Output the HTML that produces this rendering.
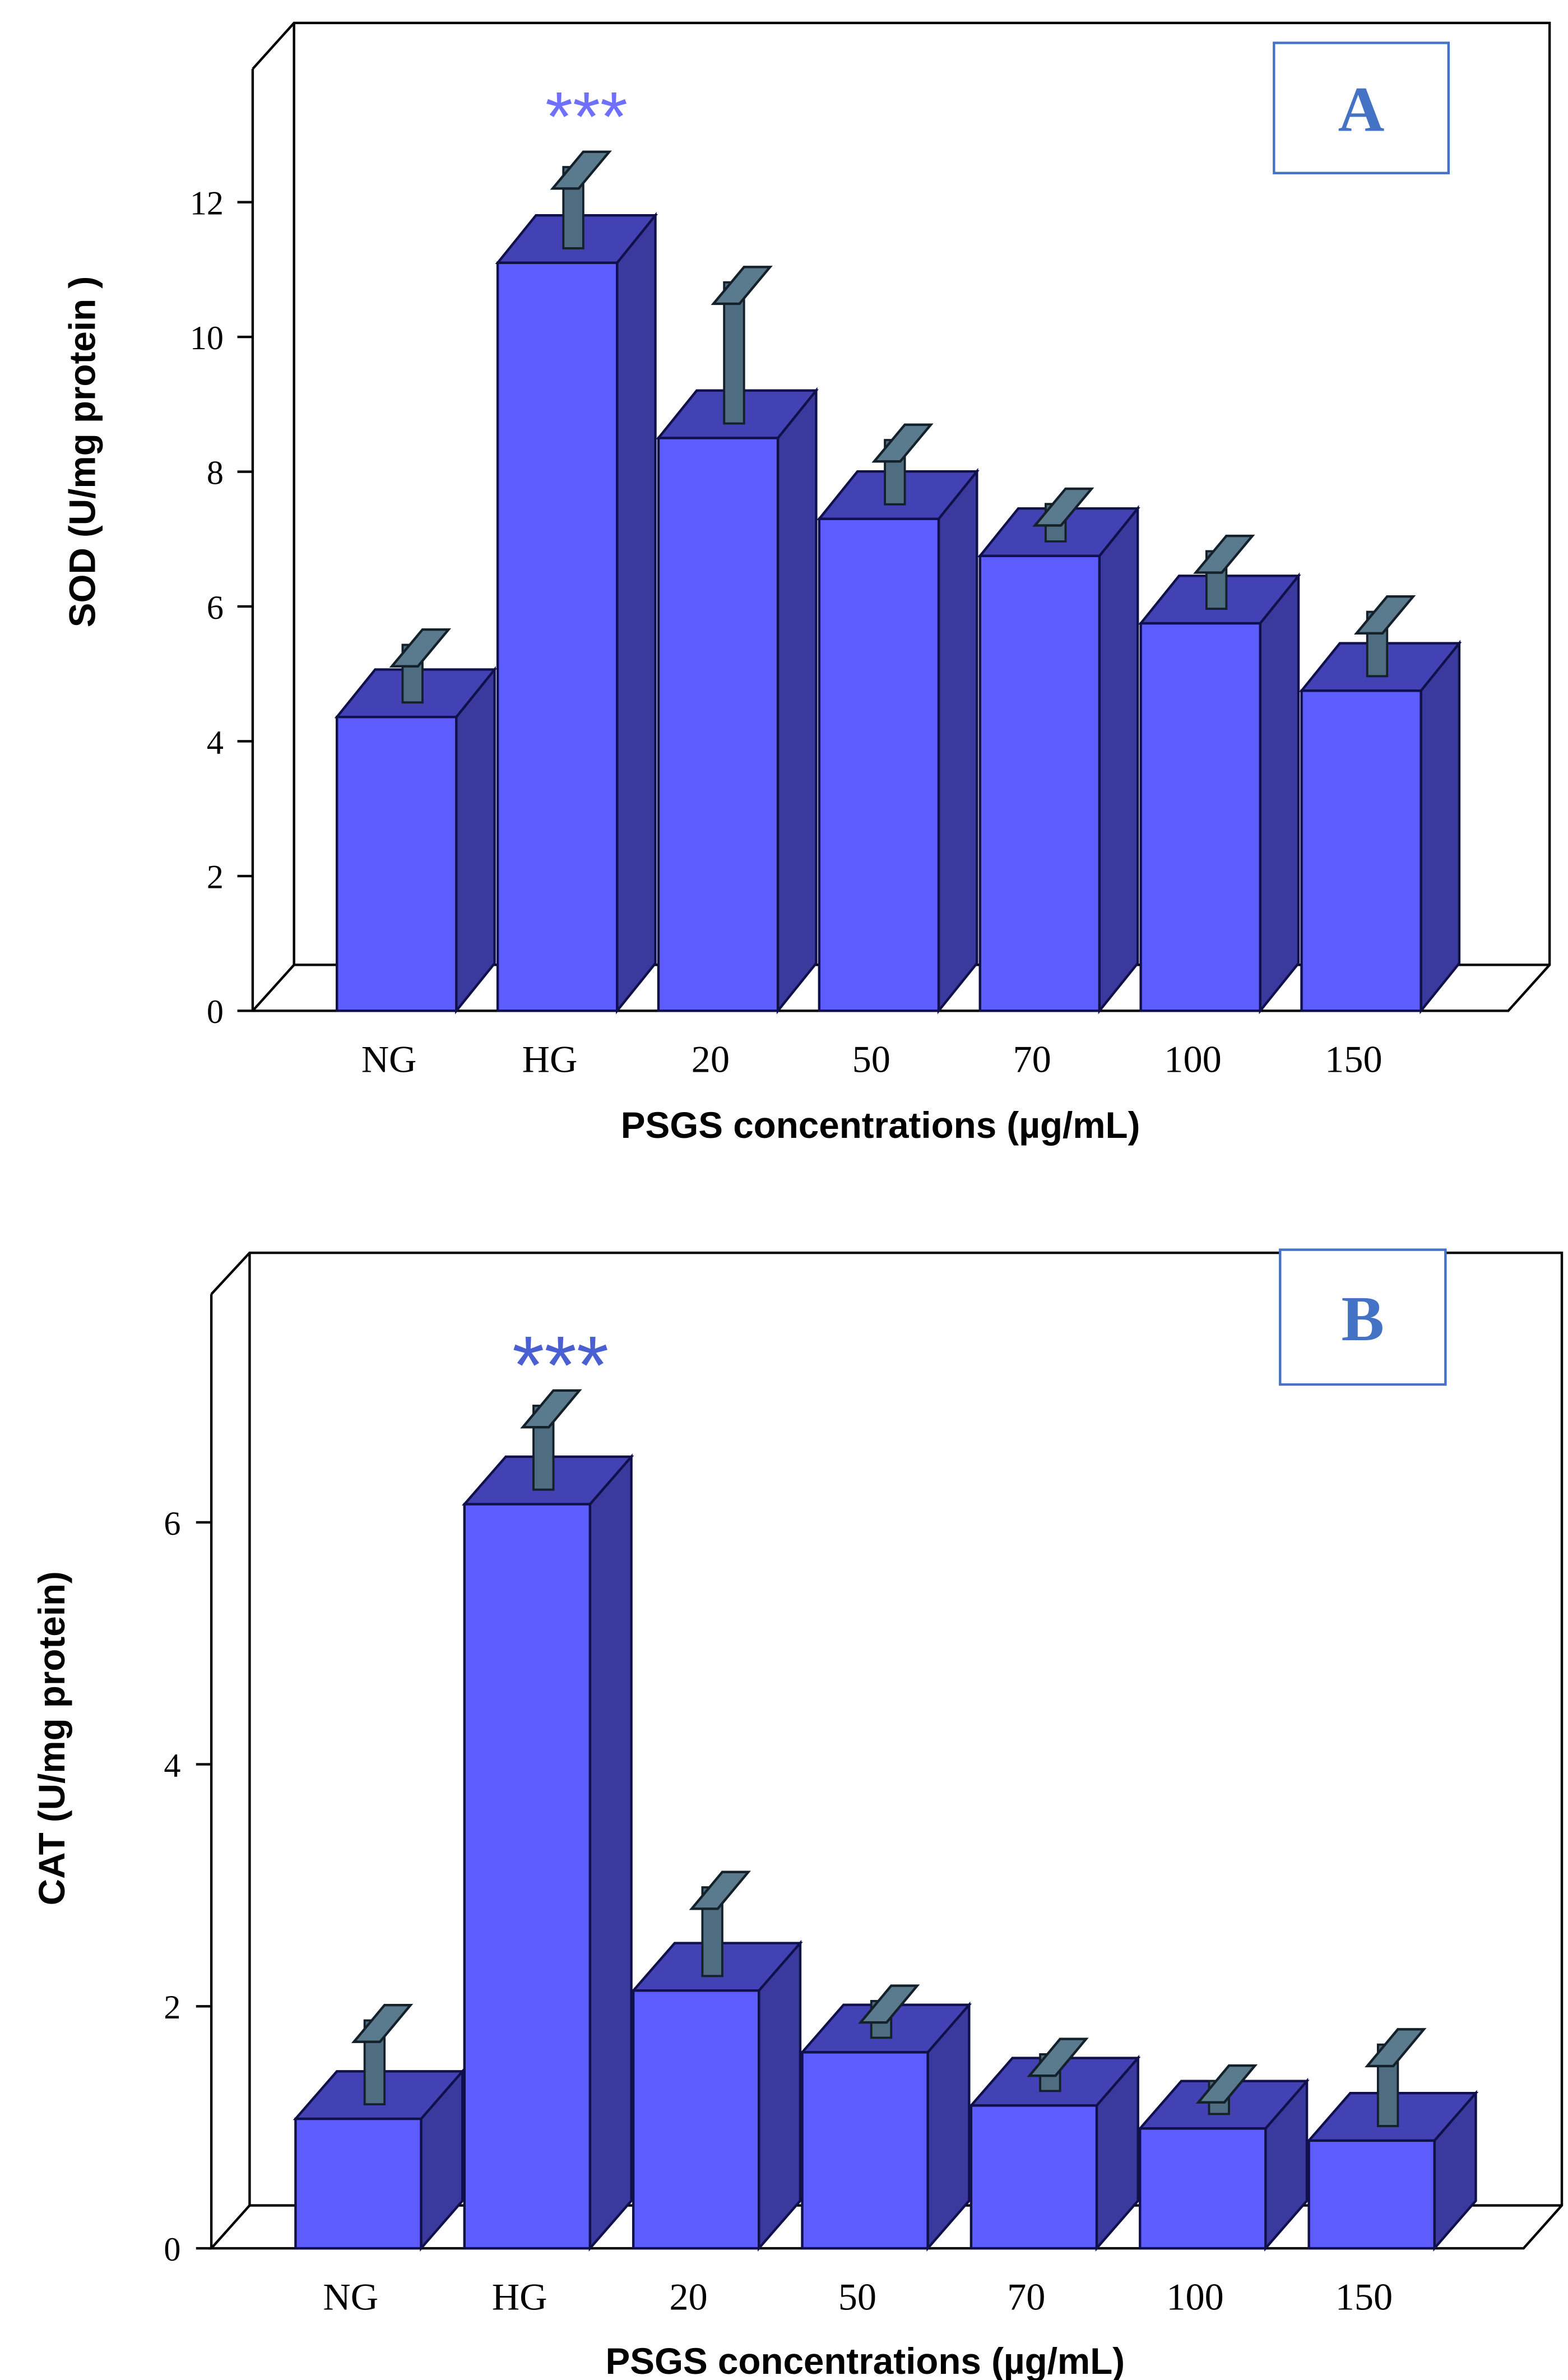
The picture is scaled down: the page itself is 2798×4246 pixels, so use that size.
<!DOCTYPE html>
<html><head><meta charset="utf-8"><style>
html,body{margin:0;padding:0;background:#fff;}
svg{display:block;}
.ax{stroke:#000;stroke-width:1.6;fill:none;}
.tk{font-family:"Liberation Serif",serif;font-size:22px;fill:#000;}
.xl{font-family:"Liberation Serif",serif;font-size:25px;fill:#000;}
.tt{font-family:"Liberation Sans",sans-serif;font-weight:bold;font-size:24px;fill:#000;}
</style></head><body>
<svg id="svg" width="2798" height="4246" viewBox="0 0 1024 1554" xmlns="http://www.w3.org/2000/svg">
<g id="gA"></g>
<g id="gB"></g>
</svg>
<script>
const categories = ["NG","HG","20","50","70","100","150"];
const sodValues = [4.36,11.1,8.5,7.3,6.75,5.75,4.75];
const sodErrors = [0.4,0.75,1.64,0.5,0.1,0.4,0.5];
const sodTicks = [0,2,4,6,8,10,12];
const catValues = [1.07,6.15,2.13,1.62,1.18,0.99,0.89];
const catErrors = [0.44,0.44,0.48,0.05,0.05,0.02,0.42];
const catTicks = [0,2,4,6];

const NS="http://www.w3.org/2000/svg";
function mk(parent,tag,attrs,text){
  const e=document.createElementNS(NS,tag);
  for(const k in attrs) e.setAttribute(k,attrs[k]);
  if(text!==undefined) e.textContent=text;
  parent.appendChild(e); return e;
}
function pts(a){return a.map(p=>p.join(",")).join(" ");}

function drawChart(g,cfg,values,errors,ticks){
  const {bx,by,fx,rx,scale,base,barX0,barStep,barW,dx,dy,labelY,titleY,yTitle,yTitleX,yTitleY,tickX,star,box,letter} = cfg;
  const yv = v => base - v*scale;
  let w;
  w=mk(g,"polyline",{class:"ax",points:pts([[fx,cfg.fyTop],[fx,base]])});
  
  
  w=mk(g,"polyline",{class:"ax",points:pts([[fx,cfg.fyTop],[bx,by],[rx+(bx-fx),by],[rx+(bx-fx),cfg.backFloor],[rx,base],[fx,base],[bx,cfg.backFloor],[bx,by]])});
  
  
  w=mk(g,"line",{class:"ax",x1:bx,y1:cfg.backFloor,x2:rx+(bx-fx),y2:cfg.backFloor});
  
  
  ticks.forEach(t=>{
    const y=yv(t);
    const l=mk(g,"line",{class:"ax",x1:fx-10,y1:y,x2:fx,y2:y});
    
    
    const tx=mk(g,"text",{class:"tk",x:tickX,y:y+8,"text-anchor":"end"},String(t));
    
    
  });
  values.forEach((v,i)=>{
    const x0=barX0+i*barStep, x1=x0+barW, yt=yv(v), yb=base;
    const bg=mk(g,"g",{});
    
    
    mk(bg,"polygon",{points:pts([[x1,yb],[x1+dx,yb-dy],[x1+dx,yt-dy],[x1,yt]]),fill:"#3a3a9e",stroke:"#10104a","stroke-width":1.6});
    mk(bg,"polygon",{points:pts([[x0,yt],[x1,yt],[x1+dx,yt-dy],[x0+dx,yt-dy]]),fill:"#4242b4",stroke:"#10104a","stroke-width":1.6});
    mk(bg,"rect",{x:x0,y:yt,width:barW,height:yb-yt,fill:"#5c5cff",stroke:"#10104a","stroke-width":1.6});
    const e=errors[i];
    const sl=x0+barW*0.55, sr=sl+13;
    const sb=yt-dy/2+6, ct=yv(v+e)-dy/2;
    const eg=mk(g,"g",{});
    
    
    mk(eg,"polygon",{points:pts([[sl,sb],[sr,sb],[sr,ct-14],[sl,ct-14]]),fill:"#4f6d80",stroke:"#14202a","stroke-width":1.4});
    mk(eg,"polygon",{points:pts([[sl-7,ct],[sr-3,ct],[sr+17,ct-24],[sl+13,ct-24]]),fill:"#5a7a8e",stroke:"#14202a","stroke-width":1.6});
    const lb=mk(g,"text",{class:"xl",x:x0+barW/2-5,y:labelY,"text-anchor":"middle"},categories[i]);
    
    
  });
  let t=mk(g,"text",{class:"tt",x:cfg.titleX,y:titleY,"text-anchor":"middle"},"PSGS concentrations (µg/mL)");
  
  
  t=mk(g,"text",{class:"tt",x:0,y:0,"text-anchor":"middle",transform:`translate(${yTitleX},${yTitleY}) rotate(-90)`},yTitle);
  
  
  t=mk(g,"text",{x:star[0],y:star[1],"text-anchor":"middle","font-family":"Liberation Sans, sans-serif","font-size":star[2],fill:star[3]},"***");
  
  
  t=mk(g,"rect",{x:box[0],y:box[1],width:box[2],height:box[3],fill:"#fff",stroke:"#4472c4","stroke-width":1.6});
  
  
  t=mk(g,"text",{x:box[0]+box[2]/2,y:box[1]+box[3]/2+15,"text-anchor":"middle","font-family":"Liberation Serif, serif","font-weight":"bold","font-size":42,fill:"#4472c4"},letter);
  
  
}

drawChart(document.getElementById("gA"),{
  bx:192,by:15,fx:165,fyTop:45,rx:985,backFloor:630,scale:44,base:660,
  barX0:220,barStep:105,barW:78,dx:25,dy:31,labelY:700,titleY:743,titleX:575,
  yTitle:"SOD (U/mg protein )",yTitleX:62,yTitleY:295,tickX:146,
  star:[383,92,46,"#7070ff"],box:[832,28,114,85],letter:"A"
},sodValues,sodErrors,sodTicks);

drawChart(document.getElementById("gB"),{
  bx:163,by:818,fx:138,fyTop:845,rx:995,backFloor:1440,scale:79,base:1468,
  barX0:193,barStep:110.3,barW:82,dx:27,dy:31,labelY:1508,titleY:1550,titleX:565,
  yTitle:"CAT (U/mg protein)",yTitleX:42,yTitleY:1135,tickX:118,
  star:[366,910,54,"#4a5fd0"],box:[836,816,108,88],letter:"B"
},catValues,catErrors,catTicks);
</script>
</body></html>
